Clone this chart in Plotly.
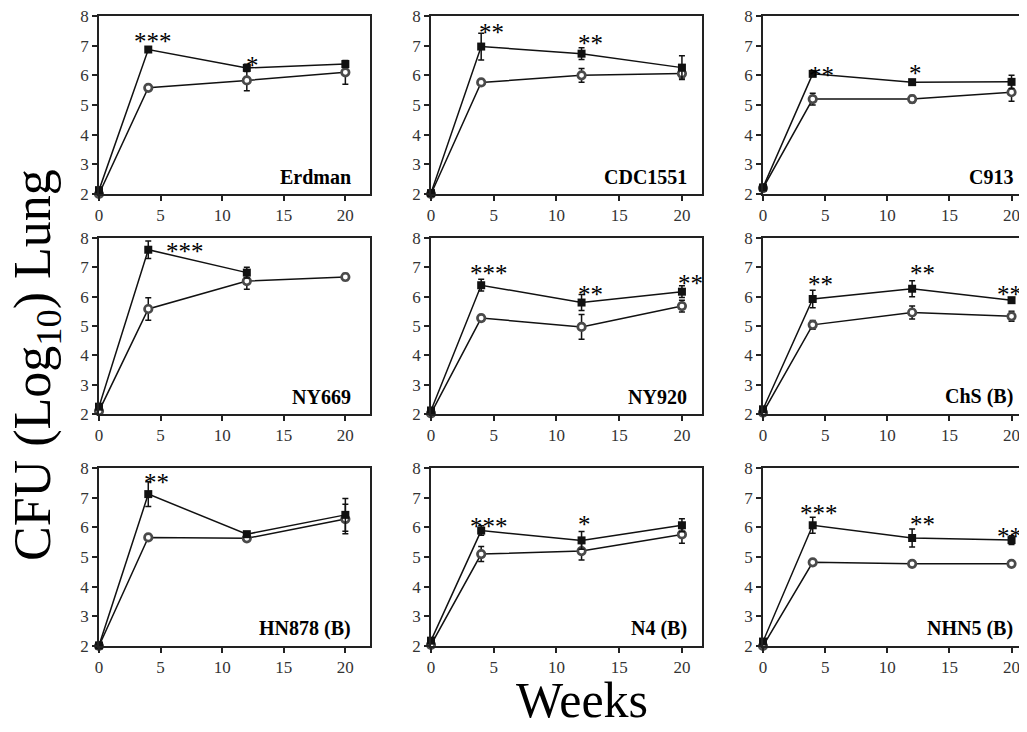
import plotly.graph_objects as go

weeks = [0, 4, 12, 20]
strains = ["Erdman", "CDC1551", "C913", "NY669", "NY920", "ChS (B)",
           "HN878 (B)", "N4 (B)", "NHN5 (B)"]

# filled squares
filled_mean = [
    [2.13, 6.87, 6.25, 6.38],
    [2.03, 6.97, 6.73, 6.26],
    [2.22, 6.05, 5.77, 5.78],
    [2.25, 7.60, 6.82, None],
    [2.12, 6.39, 5.80, 6.17],
    [2.16, 5.92, 6.27, 5.88],
    [2.02, 7.12, 5.77, 6.42],
    [2.18, 5.89, 5.56, 6.07],
    [2.15, 6.07, 5.64, 5.57],
]
filled_err = [
    [None, 0.08, 0.12, 0.10],
    [None, 0.45, 0.20, 0.40],
    [None, 0.08, 0.07, 0.22],
    [None, 0.30, 0.18, None],
    [None, 0.20, 0.27, 0.20],
    [None, 0.30, 0.27, 0.05],
    [None, 0.42, 0.06, 0.55],
    [None, 0.16, 0.30, 0.22],
    [None, 0.27, 0.30, 0.15],
]
# open circles
open_mean = [
    [2.00, 5.58, 5.83, 6.10],
    [2.00, 5.76, 6.00, 6.06],
    [2.20, 5.20, 5.20, 5.43],
    [2.10, 5.58, 6.53, 6.67],
    [2.02, 5.27, 4.97, 5.68],
    [2.05, 5.04, 5.46, 5.33],
    [2.00, 5.66, 5.63, 6.28],
    [2.04, 5.10, 5.20, 5.76],
    [2.00, 4.82, 4.77, 4.77],
]
open_err = [
    [None, None, 0.35, 0.40],
    [None, 0.08, 0.23, 0.15],
    [None, 0.20, 0.12, 0.30],
    [None, 0.38, 0.28, 0.12],
    [None, 0.10, 0.42, 0.20],
    [None, 0.15, 0.22, 0.17],
    [None, None, 0.05, 0.50],
    [None, 0.25, 0.30, 0.30],
    [None, None, None, None],
]
# significance marks: (text, week, level)
star_marks = [
    [("***", 4.4, 7.33), ("*", 12.5, 6.52)],
    [("**", 4.8, 7.63), ("**", 12.7, 7.27)],
    [("**", 4.7, 6.20), ("*", 12.3, 6.26)],
    [("***", 7.0, 7.74)],
    [("***", 4.6, 6.98), ("**", 12.7, 6.27), ("**", 20.7, 6.64)],
    [("**", 4.6, 6.62), ("**", 12.8, 6.98), ("**", 19.85, 6.28)],
    [("**", 4.7, 7.72)],
    [("***", 4.6, 6.24), ("*", 12.2, 6.31)],
    [("***", 4.5, 6.66), ("**", 12.85, 6.30), ("**", 19.85, 5.90)],
]

y_ticks = [2, 3, 4, 5, 6, 7, 8]
x_ticks = [0, 5, 10, 15, 20]

# layout geometry (screen pixels of the target picture)
OFF = 8  # page body margin
W, H = 1027 - 2 * OFF, 732 - 2 * OFF
col_px = [(99, 370), (431, 702), (763, 1019)]
col_xmax = [22, 21.6, 20.6]
label_x = [20.6, 20.6, 20.3]
row_px = [(16, 194), (238, 414), (468, 646)]

SERIF = "Liberation Serif, Times New Roman, serif"
AX = "#222222"


def fx(px):
    return min(1.0, (px - OFF) / W)


def fy(py):
    return 1 - (py - OFF) / H


fig = go.Figure()
layout = dict(
    width=W, height=H, template="none",
    margin=dict(l=0, r=0, t=0, b=0, pad=0, autoexpand=False),
    paper_bgcolor="white", plot_bgcolor="white", showlegend=False,
)
annotations = []

for i, name in enumerate(strains):
    r, c = divmod(i, 3)
    k = "" if i == 0 else str(i + 1)
    xa, ya = "x" + k, "y" + k
    x0, x1 = col_px[c]
    y0, y1 = row_px[r]
    layout["xaxis" + k] = dict(
        domain=[fx(x0), fx(x1)], range=[0, col_xmax[c]], anchor=ya,
        tickvals=x_ticks, ticks="outside", ticklen=5, tickwidth=1.5,
        tickcolor=AX, showline=True, linecolor=AX, linewidth=1.5,
        mirror=True, showgrid=False, zeroline=False, automargin=False,
        ticklabeloverflow="allow",
        tickfont=dict(family=SERIF, size=17, color="#333333"),
    )
    layout["yaxis" + k] = dict(
        domain=[fy(y1), fy(y0)], range=[2, 8], anchor=xa,
        tickvals=y_ticks, ticks="outside", ticklen=5, tickwidth=1.5,
        tickcolor=AX, showline=True, linecolor=AX, linewidth=1.5,
        mirror=(c != 2), showgrid=False, zeroline=False, automargin=False,
        ticklabeloverflow="allow",
        tickfont=dict(family=SERIF, size=17, color="#333333"),
    )
    # open circles
    fig.add_trace(go.Scatter(
        x=weeks, y=open_mean[i], xaxis=xa, yaxis=ya, mode="lines+markers",
        line=dict(color="#111111", width=1.5), cliponaxis=False,
        marker=dict(symbol="circle", size=7.5, color="white",
                    line=dict(color="#4a4a4a", width=2.7)),
        error_y=dict(type="data", array=open_err[i], color="#111111",
                     thickness=1.5, width=3),
    ))
    # filled squares
    fig.add_trace(go.Scatter(
        x=weeks, y=filled_mean[i], xaxis=xa, yaxis=ya, mode="lines+markers",
        line=dict(color="#111111", width=1.5), cliponaxis=False,
        marker=dict(symbol="square", size=8, color="#111111"),
        error_y=dict(type="data", array=filled_err[i], color="#111111",
                     thickness=1.5, width=3),
    ))
    annotations.append(dict(
        text="<b>" + name + "</b>", x=label_x[c], y=0, xref=xa,
        yref=ya + " domain", xanchor="right", yanchor="bottom", yshift=4,
        showarrow=False, font=dict(family=SERIF, size=20, color="#000000"),
    ))
    for txt, sx, sy in star_marks[i]:
        annotations.append(dict(
            text=txt, x=sx, y=sy, xref=xa, yref=ya, showarrow=False,
            xanchor="center", yanchor="middle", yshift=-6,
            font=dict(family=SERIF, size=25, color="#000000"),
        ))

annotations.append(dict(
    text="Weeks", x=fx(582), y=fy(700), xref="paper", yref="paper",
    showarrow=False, xanchor="center", yanchor="middle",
    font=dict(family=SERIF, size=50, color="#000000"),
))
annotations.append(dict(
    text="CFU (Log<sub>10</sub>) Lung", x=fx(36), y=fy(365),
    xref="paper", yref="paper", showarrow=False, textangle=-90,
    xanchor="center", yanchor="middle",
    font=dict(family=SERIF, size=52, color="#000000"),
))
layout["annotations"] = annotations
fig.update_layout(**layout)
fig.write_html("out.html")
